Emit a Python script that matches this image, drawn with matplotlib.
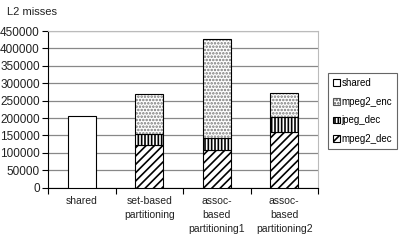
import numpy as np
import matplotlib
matplotlib.use('Agg')
from matplotlib import pyplot as plt
from matplotlib.patches import Patch

categories = ['shared', 'set-based\npartitioning', 'assoc-\nbased\npartitioning1', 'assoc-\nbased\npartitioning2']
shared = [207000, 0, 0, 0]
mpeg2_dec = [0, 122000, 108000, 161000]
jpeg_dec = [0, 33000, 34000, 43000]
mpeg2_enc = [0, 113000, 284000, 68000]
yticks = [0, 50000, 100000, 150000, 200000, 250000, 300000, 350000, 400000, 450000]

plt.rcParams['font.family'] = ['Liberation Sans', 'DejaVu Sans']
plt.rcParams['hatch.linewidth'] = 1.2

fig = plt.figure(figsize=(4.03, 2.44), dpi=100)
ax = fig.add_axes([48/403, 1-187.7/244, 270/403, 156.7/244])

x = np.arange(len(categories))
w = 0.41
dec = np.array(mpeg2_dec)
jpg = np.array(jpeg_dec)
enc = np.array(mpeg2_enc)

b_sh = ax.bar(x[:1], shared[:1], w, color='white', edgecolor='black', lw=0.8, zorder=3)
b_dec = ax.bar(x[1:], dec[1:], w, color='white', edgecolor='black', hatch='////', lw=0.8, zorder=3)
b_jpg = ax.bar(x[1:], jpg[1:], w, bottom=dec[1:], color='white', edgecolor='black', hatch='|||||', lw=0.8, zorder=3)
b_enc = ax.bar(x[1:], enc[1:], w, bottom=(dec+jpg)[1:], color='white', edgecolor='#777777', hatch='.....', lw=0, zorder=3)
# black outline over the grey dots
ax.bar(x[1:], enc[1:], w, bottom=(dec+jpg)[1:], fill=False, edgecolor='black', lw=0.8, zorder=4)

ax.set_xlim(-0.5, 3.5)
ax.set_ylim(0, 450000)
ax.set_yticks(yticks)
ax.set_yticklabels([str(v) for v in yticks], fontsize=8.5, color='#222222')
ax.yaxis.grid(True, color='#888888', lw=0.9, zorder=0)
ax.set_axisbelow(True)

ax.set_xticks(np.arange(-0.5, 4, 1))
ax.set_xticklabels([])
ax.set_xticks(x, minor=True)
ax.set_xticklabels(categories, minor=True, fontsize=7.5, color='#222222', linespacing=1.5)
ax.tick_params(axis='x', which='minor', length=0, pad=6)
ax.tick_params(axis='x', which='major', length=4, direction='out', width=0.8)
ax.tick_params(axis='y', length=4, direction='out', width=0.8, pad=2)

ax.spines['left'].set_color('black')
ax.spines['bottom'].set_color('black')
ax.spines['top'].set_color('#bbbbbb')
ax.spines['right'].set_color('#bbbbbb')

fig.text(7/403, 1-12/244, 'L2 misses', fontsize=8, color='#222222', va='center')

enc_handle = Patch(facecolor='white', edgecolor='#555555', hatch='.....', lw=0.8)
handles = [b_sh, enc_handle, b_jpg, b_dec]
labels = ['shared', 'mpeg2_enc', 'jpeg_dec', 'mpeg2_dec']
leg = fig.legend(handles, labels, loc='upper left', bbox_to_anchor=(328/403, 1-73/244),
                 fontsize=7, handlelength=0.7, handleheight=0.7, handletextpad=0.2,
                 labelspacing=0.9, borderpad=0.5, borderaxespad=0, fancybox=False,
                 edgecolor='#666666', framealpha=1)
leg.get_frame().set_linewidth(0.8)

fig.savefig('out.png', dpi=100)
